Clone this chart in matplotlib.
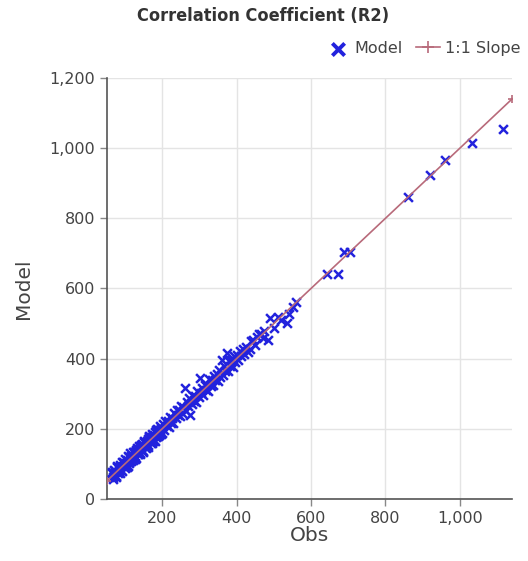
import matplotlib
matplotlib.use("Agg")
import matplotlib.pyplot as plt
from matplotlib.ticker import FuncFormatter, FixedLocator

title = "Correlation Coefficient (R2)"
x_label = "Obs"
y_label = "Model"
series_names = ["Model", "1:1 Slope"]

obs_a = [65, 67, 70, 72, 74, 76, 79, 81, 83, 86, 88, 90, 92, 95, 97, 99, 101, 104, 106, 108,
         110, 113, 115, 117, 120, 122, 124, 126, 129, 131, 133, 136, 138, 140, 142, 145, 147,
         149, 152, 154, 156, 158, 161, 163, 165, 168, 170, 172, 174, 177, 179, 181, 184, 186,
         188, 190, 193, 195, 197, 200]
model_a = [73, 58, 83, 68, 80, 64, 90, 75, 86, 73, 98, 83, 106, 93, 104, 88, 113, 96, 110, 94,
           119, 108, 130, 107, 122, 110, 135, 123, 137, 118, 146, 129, 143, 129, 154, 141, 156,
           135, 166, 148, 159, 146, 171, 154, 178, 166, 177, 159, 185, 169, 183, 166, 196, 181,
           196, 179, 208, 188, 202, 188]

obs_b = [66, 69, 73, 77, 80, 84, 87, 91, 94, 98, 102, 105, 109, 112, 116, 119, 123, 127, 130,
         134, 137, 141, 144, 148, 151, 155, 159, 162, 166, 169, 173, 176, 180, 183, 187, 191,
         194, 198]
model_b = [76, 63, 77, 67, 94, 81, 95, 79, 105, 93, 104, 91, 122, 103, 122, 118, 135, 114, 139,
           127, 152, 131, 147, 136, 162, 151, 166, 147, 180, 161, 178, 165, 190, 177, 200, 182,
           198, 185]

obs_c = [203, 206, 209, 212, 215, 218, 221, 224, 227, 230, 233, 236, 239, 242, 245, 248, 251,
         254, 257, 261, 264, 267, 270, 273, 276, 280, 283, 286, 289, 292, 295, 298, 302, 305,
         308, 311, 314, 318, 321, 324, 327, 330, 334, 337, 340, 343, 347, 350, 353, 356, 360,
         363, 366, 370, 373, 376, 380, 383, 386, 390, 393, 397, 400, 404, 408, 412, 416, 420]
model_c = [213, 197, 223, 207, 221, 205, 233, 217, 230, 216, 244, 230, 254, 239, 253, 236, 264,
           245, 262, 316, 251, 277, 265, 289, 239, 270, 295, 280, 293, 277, 308, 290, 345, 302,
           317, 297, 326, 312, 324, 309, 341, 322, 340, 325, 351, 339, 356, 336, 368, 349, 396,
           353, 378, 364, 416, 365, 393, 378, 395, 377, 407, 391, 410, 395, 421, 408, 427, 412]

obs_d = [425, 430, 435, 440, 445, 450, 455, 460, 465, 470, 475, 484, 490, 500, 510, 520, 535,
         540, 552, 560, 643, 672, 688, 705, 860, 920, 960, 1032, 1115]
model_d = [432, 420, 428, 450, 452, 440, 462, 470, 470, 458, 480, 453, 515, 488, 520, 510, 501,
           528, 547, 562, 640, 641, 705, 703, 860, 923, 966, 1014, 1054]

obs = obs_a + obs_b + obs_c + obs_d
model = model_a + model_b + model_c + model_d
slope_line = [52, 1140]

fig = plt.figure(figsize=(5.28, 5.61), dpi=100)
ax = fig.add_axes([0.2027, 0.1105, 0.7670, 0.7505])

ax.scatter(obs, model, marker="x", s=40, color="#2222dd", linewidths=1.8,
           label=series_names[0], zorder=3)
ax.plot(slope_line, slope_line, color="#b86a7a", lw=1.2, marker="+", ms=6,
        mew=1.2, label=series_names[1], zorder=4)

ax.set_xlim(52, 1140)
ax.set_ylim(0, 1200)
ax.xaxis.set_major_locator(FixedLocator([200, 400, 600, 800, 1000]))
ax.yaxis.set_major_locator(FixedLocator([0, 200, 400, 600, 800, 1000, 1200]))
fmt = FuncFormatter(lambda v, p: f"{int(v):,}")
ax.xaxis.set_major_formatter(fmt)
ax.yaxis.set_major_formatter(fmt)

ax.grid(True, color="#e4e4e4", lw=1.0, zorder=0)
ax.set_axisbelow(True)
for s in ["top", "right"]:
    ax.spines[s].set_visible(False)
for s in ["left", "bottom"]:
    ax.spines[s].set_color("#555555")
    ax.spines[s].set_linewidth(1.2)
ax.tick_params(axis="both", colors="#888888", length=5, width=1,
               labelcolor="#444444", labelsize=11.5)

ax.set_xlabel(x_label, fontsize=14.5, color="#444444", labelpad=0)
ax.set_ylabel(y_label, fontsize=14.5, color="#444444", labelpad=12)

fig.text(0.498, 0.972, title, ha="center", va="center", fontsize=13,
         fontweight="heavy", fontstretch="condensed", color="#333333",
         family="DejaVu Sans")

leg = fig.legend(loc="center right", bbox_to_anchor=(1.0, 0.914), ncol=2,
                 frameon=False, fontsize=11.5, handlelength=1.5, markerscale=1.4,
                 handletextpad=0.3, columnspacing=0.8, borderaxespad=0.1)
for t in leg.get_texts():
    t.set_color("#444444")
leg.legend_handles[0].set_linewidths(2.8)

fig.savefig("out.png", dpi=100, facecolor="white")
